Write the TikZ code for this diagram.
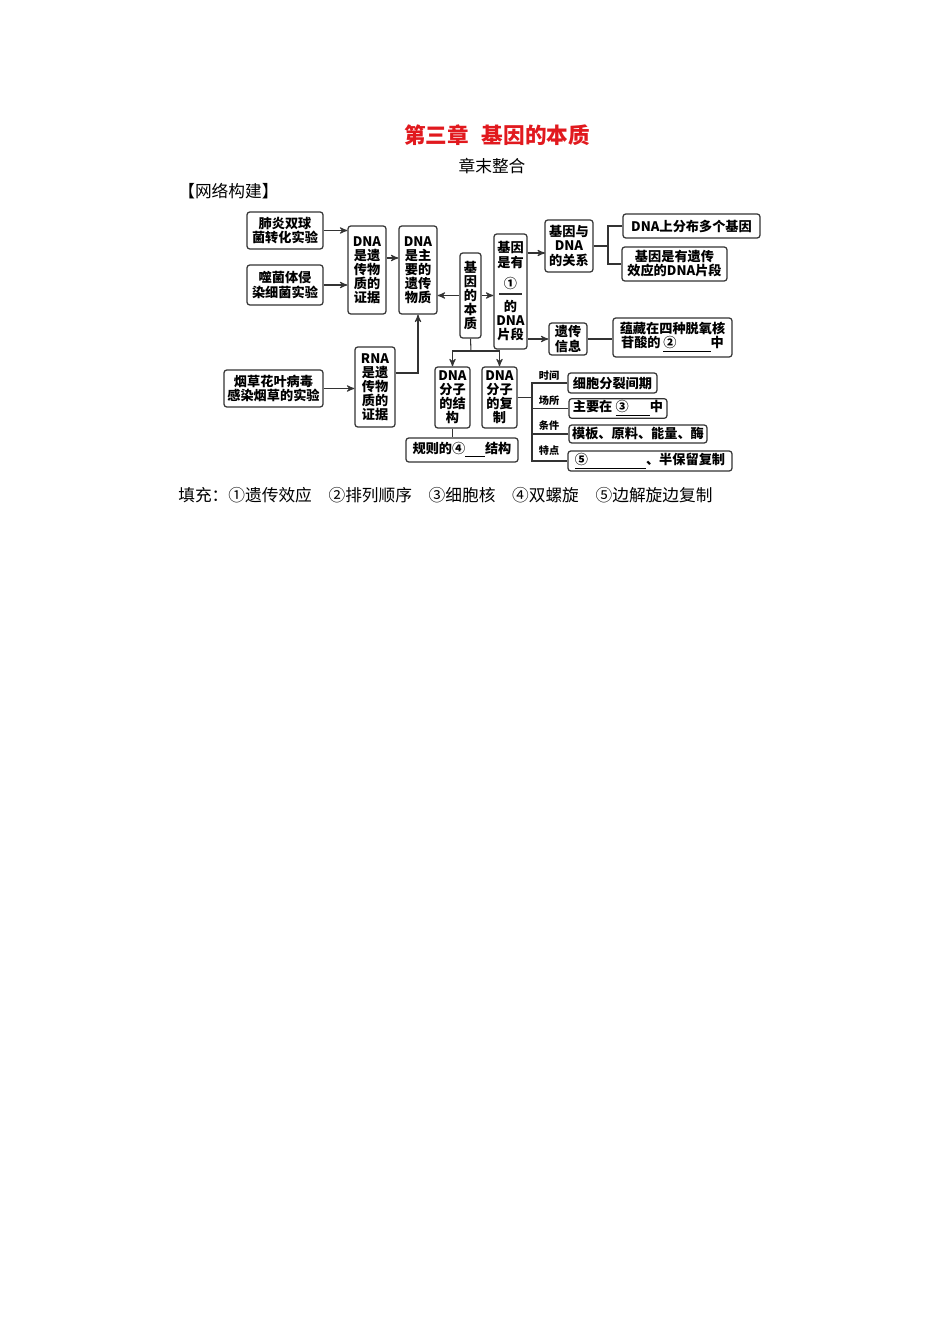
\documentclass[tikz,border=0pt]{standalone}
\usepackage{fontspec}
\setmainfont{Noto Sans CJK SC}
\usetikzlibrary{arrows}
\definecolor{titlered}{RGB}{225,25,30}
\tikzset{
  box/.style={draw=black!80,line width=0.7pt,rounded corners=1.6pt,align=center,inner sep=1pt,font=\fontsize{7.5pt}{8pt}\selectfont\bfseries},
  sz/.style 2 args={minimum width=#1*0.02cm,minimum height=#2*0.02cm},
  link/.style={draw=black!80,line width=0.6pt},
  tag/.style={font=\fontsize{5.8pt}{6pt}\selectfont\bfseries,inner sep=0pt},
  body/.style={font=\fontsize{9.5pt}{11pt}\selectfont,inner sep=0pt},
}

\begin{document}
\begin{tikzpicture}[x=0.02cm,y=-0.02cm,>=stealth']
\fill[white] (0,0) rectangle (950,1344);
\useasboundingbox (0,0) rectangle (950,1344);

% headings
\node[font=\fontsize{12.3pt}{14pt}\selectfont\bfseries,text=titlered,inner sep=0pt] (title) at (497,135) {第三章\hspace{0.6em}基因的本质};
\node[body] (sub) at (492,166) {章末整合};
\node[body,anchor=west] (net) at (178,191) {【网络构建】};

% left column
\node[box,sz={76}{37}] (fy) at (285,230.5) {肺炎双球\\菌转化实验};
\node[box,sz={76}{40}] (sj) at (285,285) {噬菌体侵\\染细菌实验};
\node[box,sz={99}{37}] (yh) at (273.5,388.5) {烟草花叶病毒\\感染烟草的实验};
\node[box,sz={38}{88}] (zj) at (367,270) {DNA\\是遗\\传物\\质的\\证据};
\node[box,sz={40}{80}] (rna) at (375,387) {RNA\\是遗\\传物\\质的\\证据};
\node[box,sz={38}{88}] (zy) at (418,270) {DNA\\是主\\要的\\遗传\\物质};

% centre
\node[box,sz={21}{85}] (bz) at (470.5,295.5) {基\\因\\的\\本\\质};
\node[box,sz={33}{115}] (jy) at (510.5,291.5) {基因\\是有\\[4.5pt]①\\[5pt]的\\DNA\\片段};
\node[box,sz={35}{61}] (jg) at (452.5,397.5) {DNA\\分子\\的结\\构};
\node[box,sz={35}{61}] (fz) at (499.5,397.5) {DNA\\分子\\的复\\制};
\node[box,sz={112}{24}] (gz) at (462,450) {规则的④\underline{\hspace{1.5em}}结构};

% right column
\node[box,sz={48}{52}] (gx) at (569,246) {基因与\\DNA\\的关系};
\node[box,sz={137}{24}] (fb) at (691.5,226) {DNA上分布多个基因};
\node[box,sz={105}{34}] (xy) at (674.5,264) {基因是有遗传\\效应的DNA片段};
\node[box,sz={38}{32}] (yc) at (568,339) {遗传\\信息};
\node[box,sz={119}{39}] (yz) at (672.5,337.5) {蕴藏在四种脱氧核\\苷酸的\hspace{0.2em}\underline{\makebox[3.6em][l]{②}}中};

% replication
\node[box,sz={89}{20}] (t1) at (612.5,383) {细胞分裂间期};
\node[box,sz={98}{19}] (t2) at (618,408.5) {主要在\hspace{0.25em}\underline{\makebox[2.6em][l]{③}}中};
\node[box,sz={138}{18}] (t3) at (638,434) {模板、原料、能量、酶};
\node[box,sz={164}{20}] (t4) at (650,461) {\underline{\makebox[5.4em][l]{⑤}}、半保留复制};
\node[tag] (l1) at (549,376) {时间};
\node[tag] (l2) at (549,401) {场所};
\node[tag] (l3) at (549,426) {条件};
\node[tag] (l4) at (549,451) {特点};

% helper points
\coordinate (a1) at (545,253);
\coordinate (b1) at (608,246);
\coordinate (b2) at (471,351);
\coordinate (tr) at (532,0);

% connectors
\draw[link,->] (fy.east) -- (fy.east -| zj.west);
\draw[link,->] (sj.east) -- (sj.east -| zj.west);
\draw[link,->] ([yshift=0.24cm]zj.east) -- ([yshift=0.24cm]zy.west);
\draw[link,->] (yh.east) -- (yh.east -| rna.west);
\draw[link,->] ([yshift=0.28cm]rna.east) -| (zy.south);
\draw[link,->] (bz.west) -- (bz.west -| zy.east);
\draw[link,->] (bz.east) -- (bz.east -| jy.west);
\draw[link] (499,294) -- (522,294);
\draw[link,->] (a1 -| jy.east) -- (a1);
\draw[link] (gx.east) -- (b1);
\draw[link] (fb.west) -| (b1) |- (xy.west);
\draw[link,->] (yc.west -| jy.east) -- (yc.west);
\draw[link] (yc.east) -- (yc.east -| yz.west);
\draw[link] (bz.south) -- (b2);
\draw[link,->] (b2) -| (jg.north);
\draw[link,->] (b2) -| (fz.north);
\draw[link] (jg.south) -- (jg.south |- gz.north);
\draw[link] (t1.west) -- (t1.west -| tr) |- (t4.west);
\draw[link] (t2.west) -- (t2.west -| tr);
\draw[link] (t3.west) -- (t3.west -| tr);
\draw[link] (fz.east) -- (fz.east -| tr);

% answers
\node[body,anchor=west] (fill) at (178,495) {填充：①遗传效应　②排列顺序　③细胞核　④双螺旋　⑤边解旋边复制};
\end{tikzpicture}
\end{document}
